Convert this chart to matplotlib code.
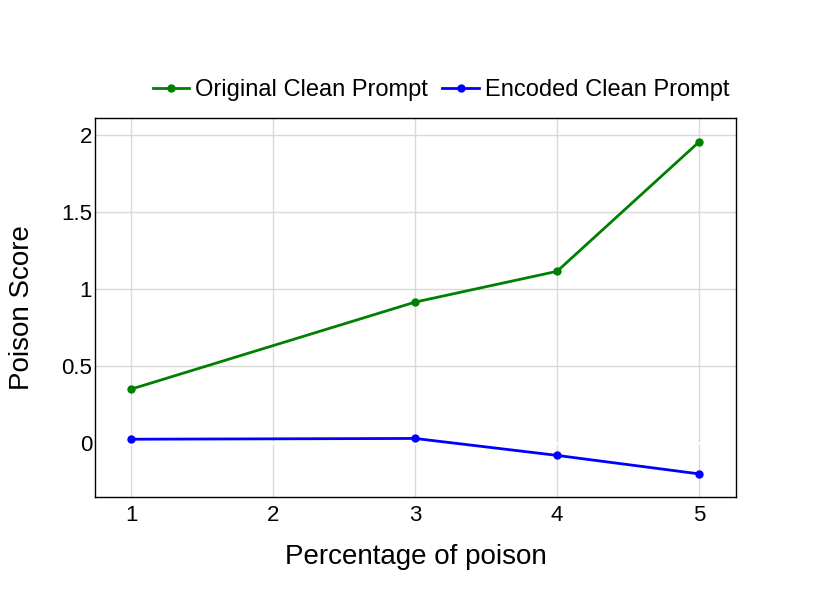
import matplotlib
matplotlib.use("Agg")
import matplotlib.pyplot as plt

plt.rcParams['font.family'] = ['Liberation Sans', 'DejaVu Sans']

# datos
pct = [1, 3, 4, 5]
original = [0.35, 0.915, 1.115, 1.955]
encoded = [0.025, 0.03, -0.08, -0.2]
yticks = [0, 0.5, 1, 1.5, 2]
yticklabels = ['0', '0.5', '1', '1.5', '2']
xticks = [1, 2, 3, 4, 5]

fig = plt.figure(figsize=(8.31, 5.93), dpi=100)
ax = fig.add_axes([0.1143, 0.1619, 0.7714, 0.6391])

ax.plot(pct, original, color='green', linewidth=2, marker='o', markersize=5,
        label='Original Clean Prompt', zorder=3)
ax.plot(pct, encoded, color='blue', linewidth=2, marker='o', markersize=5,
        label='Encoded Clean Prompt', zorder=3)

ax.set_xlim(0.746, 5.26)
ax.set_ylim(-0.35, 2.11)
ax.set_xticks(xticks)
ax.set_yticks(yticks)
ax.set_yticklabels(yticklabels)
ax.tick_params(length=0, labelsize=16)
ax.tick_params(axis='y', pad=2)
ax.tick_params(axis='x', pad=6)
ax.grid(color='#d9d9d9', linewidth=1)
ax.axhline(0, color='white', linewidth=2, zorder=2)
for s in ax.spines.values():
    s.set_color('black')
    s.set_linewidth(1)

ax.set_xlabel('Percentage of poison', fontsize=20, labelpad=13)
ax.set_ylabel('Poison Score', fontsize=20, labelpad=19)

ax.legend(loc='center left', bbox_to_anchor=(0.09, 1.074), ncol=2, frameon=False,
          fontsize=17, handlelength=1.55, handletextpad=0.25, columnspacing=0.6,
          borderaxespad=0, borderpad=0)

fig.savefig('out.png', dpi=100)
